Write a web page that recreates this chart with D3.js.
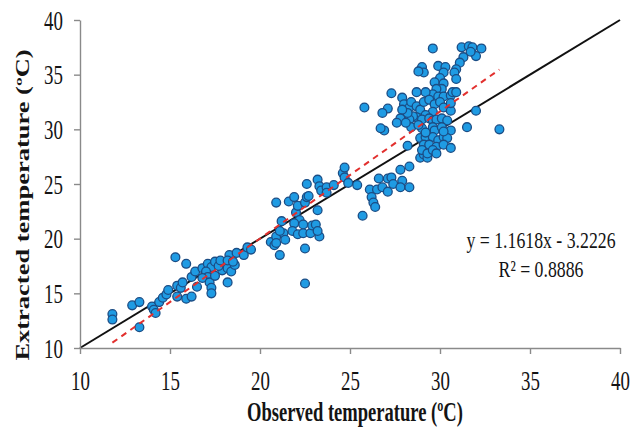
<!DOCTYPE html>
<html>
<head>
<meta charset="utf-8">
<script src="https://cdn.jsdelivr.net/npm/d3@7"></script>
<style>
  html, body { margin: 0; padding: 0; background: #fff; }
  svg { display: block; font-family: "Liberation Serif", "Times New Roman", serif; }
</style>
</head>
<body>
<svg id="chart" width="630" height="429"></svg>
<script>
// Axis ticks (°C)
const xTicks = [10, 15, 20, 25, 30, 35, 40];
const yTicks = [10, 15, 20, 25, 30, 35, 40];

// Paired samples: [observed °C, extracted °C]
const samples = [
  [11.8,13.1],[11.8,12.6],[12.9,13.9],[13.3,14.2],[13.3,11.9],[14.0,13.8],[14.1,13.5],[14.2,13.2],
  [14.4,14.2],[14.6,14.6],[14.8,14.9],[14.9,15.3],
  [15.3,18.3],[15.9,17.7],[15.4,15.7],[15.6,15.5],[15.7,16.0],[15.9,14.5],[16.2,14.7],[15.4,14.7],
  [16.2,16.5],[16.5,15.6],[16.4,17.0],[16.8,17.3],[17.1,17.7],[17.3,17.4],[17.0,17.0],[17.1,16.5],
  [16.8,16.4],[17.2,16.0],[17.3,15.5],[17.3,15.0],[17.5,16.6],[17.5,17.9],[17.9,17.1],
  [17.7,17.5],[18.2,17.3],[18.3,18.5],[18.4,17.0],[18.2,16.0],[18.6,17.6],[18.7,18.7],[19.1,18.5],
  [19.3,19.2],[19.5,19.0],[17.8,18.0],[18.2,18.0],[18.5,17.9],
  [20.6,19.7],[20.8,19.4],[21.1,18.5],[20.9,20.2],[20.9,19.6],[21.3,20.5],[21.4,19.9],[21.1,20.7],
  [20.9,23.3],[21.2,21.6],[21.6,23.4],[21.9,23.8],[22.0,22.4],[22.1,23.0],[22.2,21.7],[21.9,21.4],
  [21.8,20.7],[22.1,20.4],[22.4,21.3],[22.4,20.5],[22.6,25.0],[22.5,23.3],[22.6,23.8],[22.7,23.9],
  [22.8,20.5],[22.9,21.2],[23.1,21.3],[23.2,22.6],[23.3,20.2],[23.2,20.7],[22.5,19.1],[22.5,15.9],
  [23.2,25.4],[23.3,24.8],[23.4,24.4],[23.7,24.7],[23.7,24.2],[24.1,24.9],[24.6,26.0],[24.7,26.5],
  [24.7,25.6],[24.9,25.1],[25.4,24.9],[25.7,22.1],
  [26.1,24.5],[26.2,23.8],[26.3,23.3],[26.4,22.9],[26.5,24.5],[26.6,25.5],[26.8,24.7],[27.1,24.3],
  [27.1,25.5],[27.3,25.6],[27.4,25.0],[27.8,26.3],[27.9,25.3],[27.8,24.7],[28.3,26.6],[28.3,24.7],
  [28.9,27.4],[29.1,27.7],[29.3,27.4],[28.2,28.5],
  [29.6,37.4],[31.2,37.5],[31.6,37.6],[31.8,37.5],[32.3,37.4],[32.0,36.7],[31.7,37.1],[31.3,36.6],
  [31.1,36.1],[30.9,35.5],[30.8,35.2],[30.9,34.6],
  [29.0,35.7],[29.1,35.2],[28.8,35.3],[29.9,35.8],[30.3,35.7],[30.2,35.2],[30.0,34.7],[29.7,34.3],
  [30.2,34.2],[30.1,33.7],[29.8,33.7],[29.6,33.2],[29.9,33.0],[30.2,33.0],[30.6,33.1],[30.7,33.4],
  [30.9,33.4],[29.2,33.4],[28.7,33.4],[27.3,33.3],[27.9,32.9],[28.0,32.3],[28.3,32.0],[28.4,32.5],
  [28.7,32.1],[28.9,31.8],[29.1,32.5],[29.4,32.7],[29.7,32.3],[30.0,32.5],[30.2,32.0],[30.6,31.7],
  [29.6,31.6],[29.2,31.3],[28.7,31.1],[28.5,31.2],[28.3,30.9],[28.2,31.5],[27.9,31.8],[27.8,31.0],
  [27.6,30.6],[27.1,31.9],[26.9,29.9],[26.8,31.5],[26.7,30.1],[28.4,30.2],[29.0,30.9],[29.0,30.1],
  [29.4,31.0],[29.6,30.8],[29.8,30.9],[30.1,31.0],[30.4,30.8],[29.6,30.2],[29.7,29.9],[30.1,30.2],
  [30.6,29.9],[32.0,31.7],[31.5,30.2],[33.3,30.0],[28.9,29.2],[29.2,29.3],[29.6,29.3],[29.9,29.0],
  [30.2,29.3],[30.4,29.2],[29.1,28.6],[29.4,28.6],[29.8,28.4],[30.2,28.6],[29.0,28.1],[29.3,27.8],
  [29.6,28.1],[29.8,27.8],[30.6,28.3],[28.1,30.6],[28.8,30.4],[29.2,29.7],[30.2,29.8],[25.8,32.0],
  [30.6,32.4]
];

// Linear fit reported on the chart
const fitSlope = 1.1618;
const fitIntercept = -3.2226;
const fitR2 = 0.8886;

const xTitle = "Observed temperature (ºC)";
const yTitle = "Extracted temperature (ºC)";

const svg = d3.select("#chart");
const x = d3.scaleLinear().domain([10, 40]).range([80, 620]);
const y = d3.scaleLinear().domain([10, 40]).range([348, 20]);

const squeeze = 0.7;          // narrow serif lettering
const axisGray = "#8a8a8a";
const ink = "#141414";

// 1:1 reference line
svg.append("line")
  .attr("x1", x(10)).attr("y1", y(10))
  .attr("x2", x(40)).attr("y2", y(40))
  .attr("stroke", "#111").attr("stroke-width", 2);

// Sample points
svg.append("g").selectAll("circle")
  .data(samples)
  .join("circle")
  .attr("cx", d => x(d[0]))
  .attr("cy", d => y(d[1]))
  .attr("r", 4.4)
  .attr("fill", "#1f9be3")
  .attr("stroke", "#1b4d85")
  .attr("stroke-width", 1.3);

// Regression line over the observed range
const obsExtent = d3.extent(samples, d => d[0]);
svg.append("line")
  .attr("x1", x(obsExtent[0])).attr("y1", y(fitSlope * obsExtent[0] + fitIntercept))
  .attr("x2", x(obsExtent[1])).attr("y2", y(fitSlope * obsExtent[1] + fitIntercept))
  .attr("stroke", "#e2302e").attr("stroke-width", 2)
  .attr("stroke-dasharray", "6,5");

// X axis
const gx = svg.append("g")
  .attr("transform", `translate(0,${y(10)})`)
  .call(d3.axisBottom(x).tickValues(xTicks).tickSize(6).tickSizeOuter(0).tickFormat(d3.format("d")));
gx.attr("font-family", null).attr("font-size", 27);
gx.select(".domain").attr("stroke", axisGray).attr("stroke-width", 1.4);
gx.selectAll(".tick line").attr("stroke", axisGray).attr("stroke-width", 1.4);
gx.selectAll(".tick text")
  .attr("fill", ink).attr("y", 42).attr("dy", 0)
  .attr("transform", `scale(${squeeze},1)`);

// Y axis
const gy = svg.append("g")
  .attr("transform", `translate(${x(10)},0)`)
  .call(d3.axisLeft(y).tickValues(yTicks).tickSize(6).tickSizeOuter(0).tickFormat(d3.format("d")));
gy.attr("font-family", null).attr("font-size", 27);
gy.select(".domain").attr("stroke", axisGray).attr("stroke-width", 1.4);
gy.selectAll(".tick line").attr("stroke", axisGray).attr("stroke-width", 1.4);
gy.selectAll(".tick text")
  .attr("fill", ink).attr("x", -17 / squeeze).attr("dy", "0.34em")
  .attr("transform", `scale(${squeeze},1)`);

// Axis titles
svg.append("text")
  .attr("transform", `translate(355,421) scale(${squeeze},1)`)
  .attr("text-anchor", "middle")
  .attr("font-size", 26.5).attr("font-weight", "bold").attr("fill", ink)
  .text(xTitle);

svg.append("text")
  .attr("transform", `translate(29,205) scale(${squeeze},1) rotate(-90)`)
  .attr("text-anchor", "middle")
  .attr("font-size", 26.5).attr("font-weight", "bold").attr("fill", ink)
  .text(yTitle);

// Fit equation
const fmt4 = d3.format(".4f");
const eqText = `y = ${fmt4(fitSlope)}x - ${fmt4(Math.abs(fitIntercept))}`;
svg.append("text")
  .attr("transform", `translate(541,248) scale(0.74,1)`)
  .attr("text-anchor", "middle")
  .attr("font-size", 24).attr("fill", ink)
  .text(eqText);
svg.append("text")
  .attr("transform", `translate(541,277) scale(0.74,1)`)
  .attr("text-anchor", "middle")
  .attr("font-size", 24).attr("fill", ink)
  .text(`R² = ${fmt4(fitR2)}`);
</script>
</body>
</html>
